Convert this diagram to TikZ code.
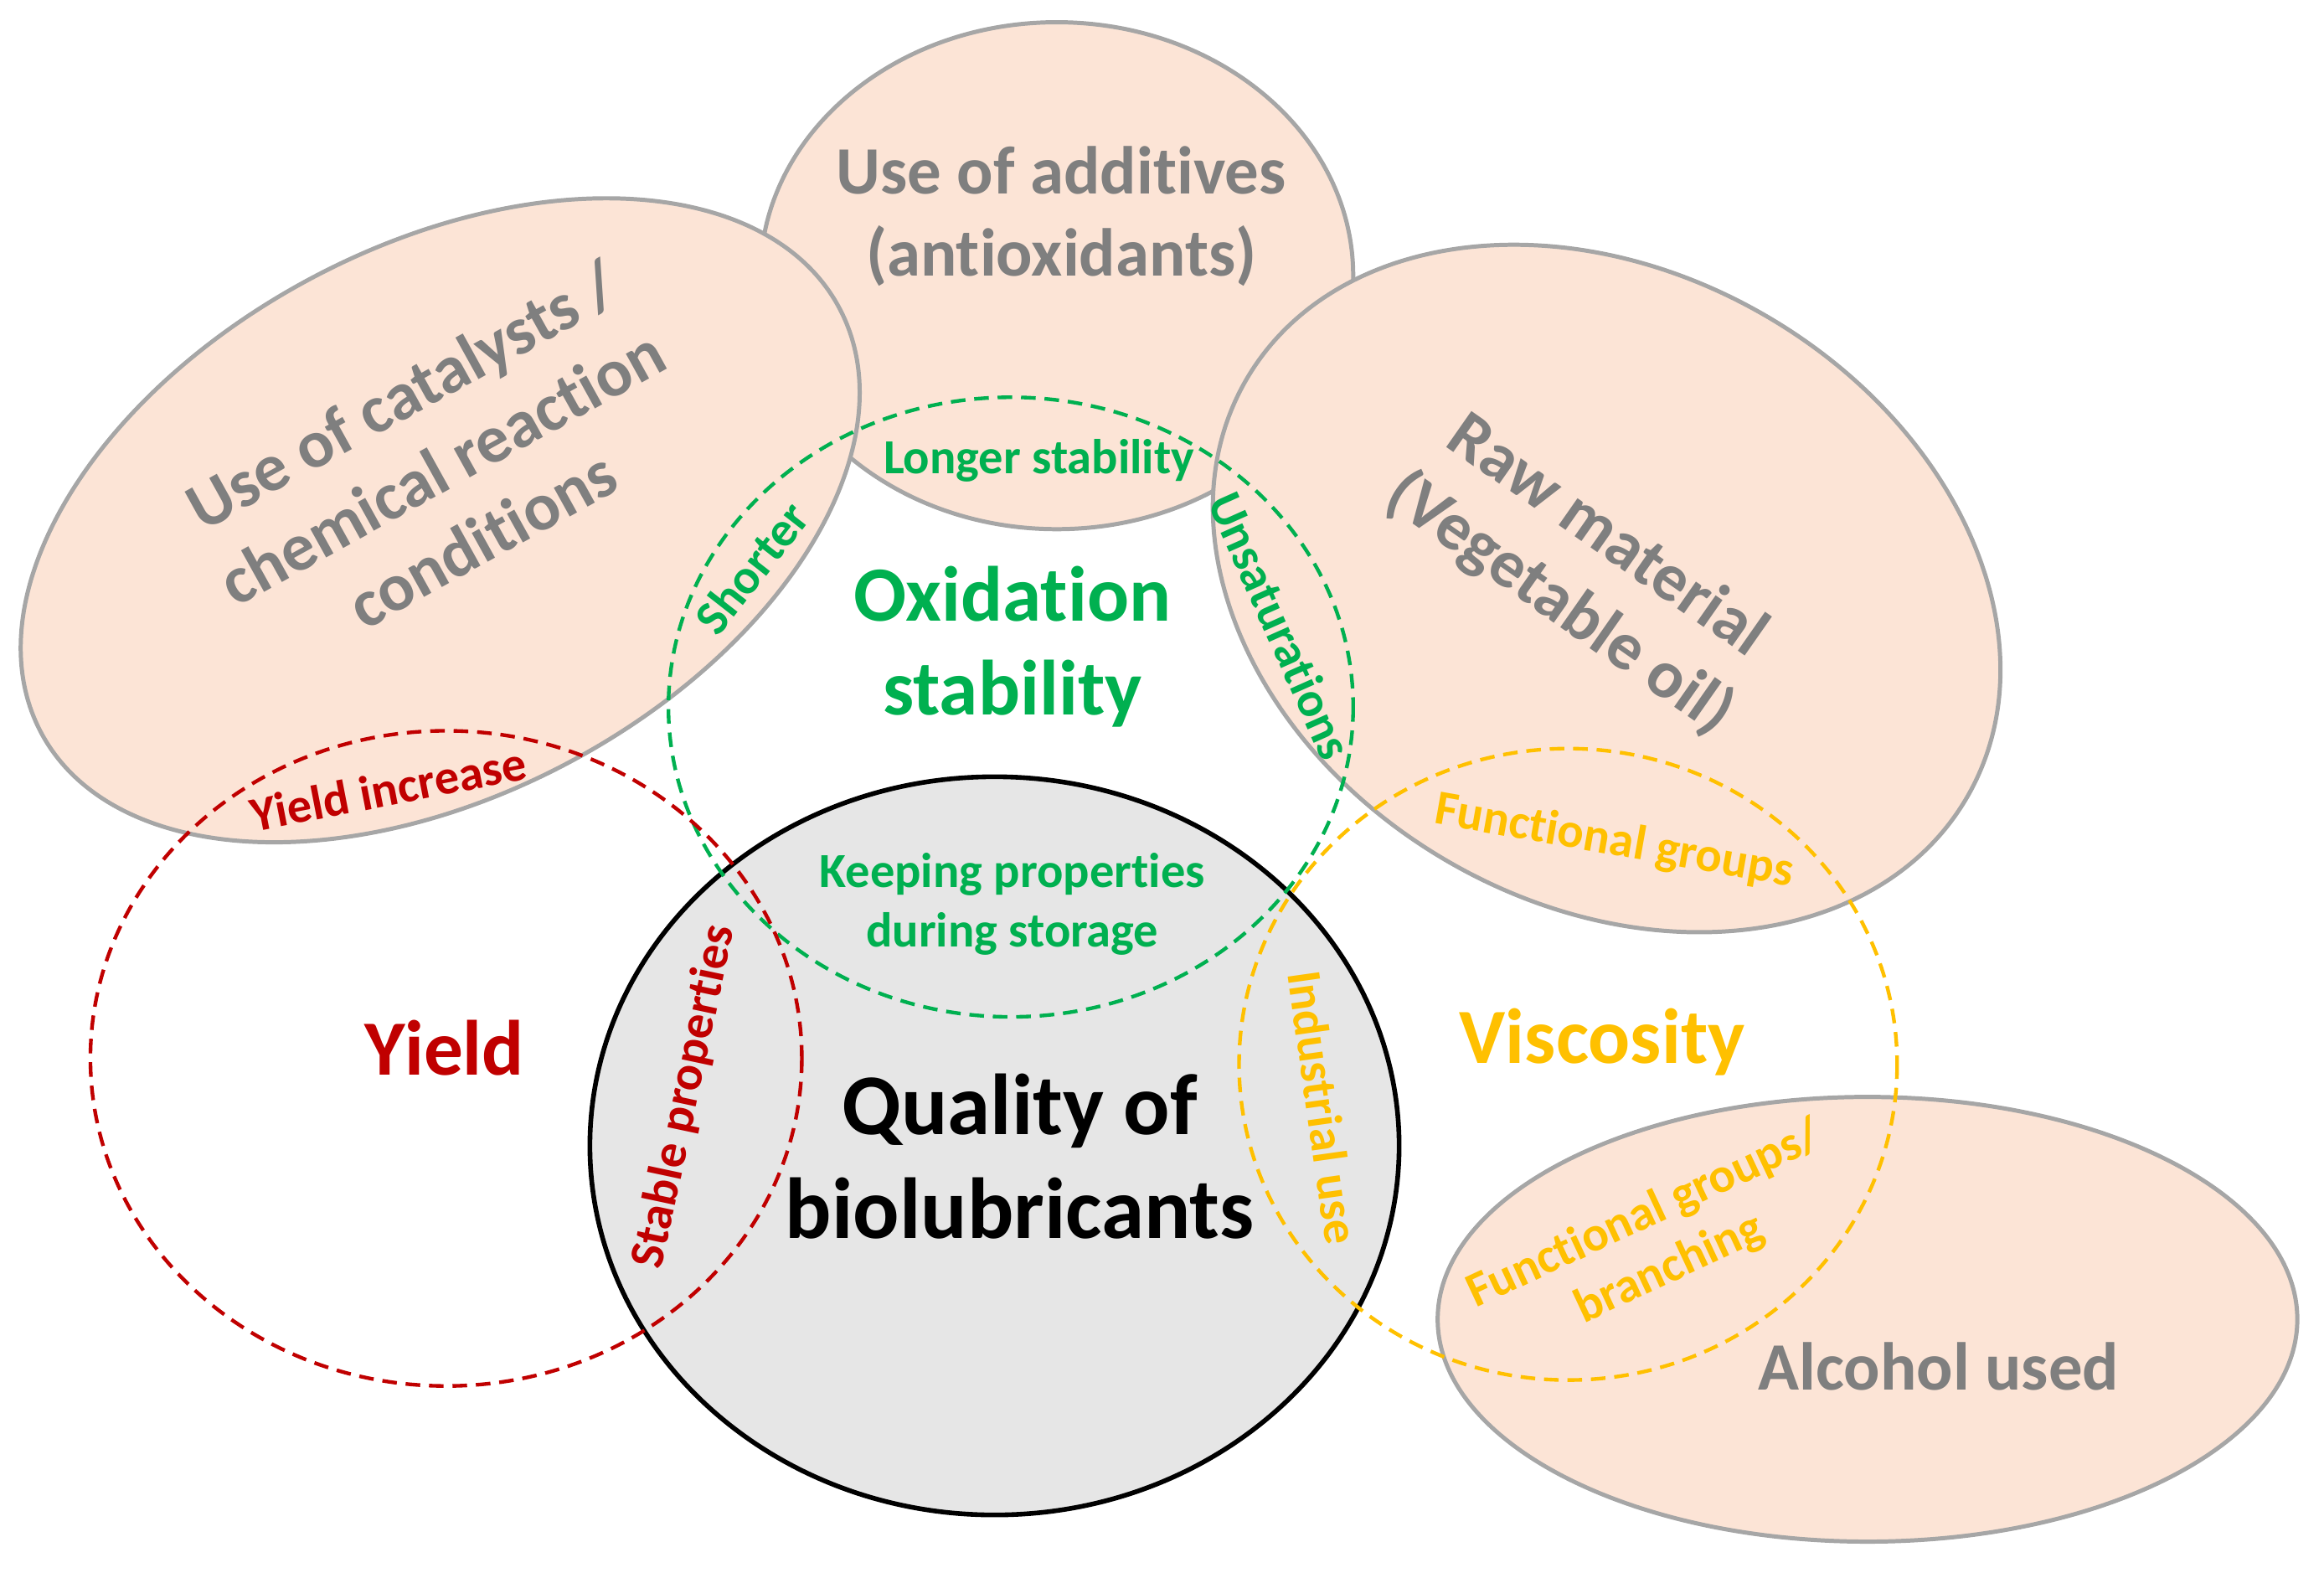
\documentclass[tikz,border=0pt]{standalone}
\usepackage{fontspec}
\setmainfont{Carlito}[Ligatures=NoCommon]
\usepackage{tikz}
\definecolor{peach}{HTML}{FCE4D6}
\definecolor{edgegray}{HTML}{A6A6A6}
\definecolor{txtgray}{HTML}{7F7F7F}
\definecolor{oxgreen}{HTML}{00B050}
\definecolor{yieldred}{HTML}{C00000}
\definecolor{viscyellow}{HTML}{FFC000}
\definecolor{coregray}{HTML}{E6E6E6}

\begin{document}
\begin{tikzpicture}[x=0.01cm,y=-0.01cm,
  blob/.style={fill=peach,draw=edgegray,line width=0.8pt},
  ring/.style={line width=0.7pt,dash pattern=on 2.8pt off 1.7pt},
  factor/.style={font=\fontsize{13}{15.8}\selectfont\bfseries,text=txtgray,align=center,inner sep=0pt},
  prop/.style={font=\fontsize{15}{18}\selectfont\bfseries,align=center,inner sep=0pt},
  tag/.style={font=\fontsize{9.4}{11.4}\selectfont\bfseries,align=center,inner sep=0pt}]
\useasboundingbox (0,0) rectangle (1568,1061);
% factor areas
\draw[blob] (713,186) ellipse (200 and 171);
\draw[blob,rotate around={28:(297,351)}] (297,351) ellipse (305 and 185);
\draw[blob,rotate around={-30:(1084,397)}] (1084,397) ellipse (281 and 213);
\draw[blob] (1260,890) ellipse (290 and 150);
% core
\draw[fill=coregray,line width=0.9pt] (671,773) ellipse (273 and 249);
% property rings
\draw[ring,draw=oxgreen] (682,477) ellipse (231 and 209);
\draw[ring,draw=yieldred] (301,714) ellipse (240 and 221);
\draw[ring,draw=viscyellow] (1058,718) ellipse (222 and 213);

\node[factor] (additives) at (716,146) {Use of additives\\(antioxidants)};
\node[factor,rotate=29] (catalysts) at (298,315) {Use of catalysts /\\chemical reaction\\conditions};
\node[factor,rotate=-35] (rawmat) at (1068,385) {Raw material\\(Vegetable oil)};
\node[factor] (alcohol) at (1308,922) {Alcohol used};

\node[prop,text=oxgreen] (oxid) at (683,436) {Oxidation\\stability};
\node[prop,text=yieldred] (yield) at (300,707) {Yield};
\node[prop,text=viscyellow] (visc) at (1081,703) {Viscosity};
\node[prop,font=\fontsize{16.6}{19.9}\selectfont\bfseries] (quality) at (688,780) {Quality of\\biolubricants};

\node[tag,text=oxgreen] (longer) at (701,311) {Longer stability};
\node[tag,text=oxgreen,rotate=52] (shorter) at (507,383) {Shorter};
\node[tag,text=oxgreen,rotate=-66] (unsat) at (864,422) {Unsaturations};
\node[tag,text=oxgreen] (keeping) at (683,610) {Keeping properties\\during storage};
\node[tag,text=yieldred,rotate=11] (yinc) at (262,532) {Yield increase};
\node[tag,text=yieldred,rotate=78] (stable) at (462,740) {Stable properties};
\node[tag,text=viscyellow,rotate=-82] (industrial) at (893,747) {Industrial use};
\node[tag,text=viscyellow,rotate=-10] (fgroups) at (1089,568) {Functional groups};
\node[tag,text=viscyellow,rotate=25] (fbranch) at (1118,838) {Functional groups/\\branching};
\end{tikzpicture}
\end{document}
